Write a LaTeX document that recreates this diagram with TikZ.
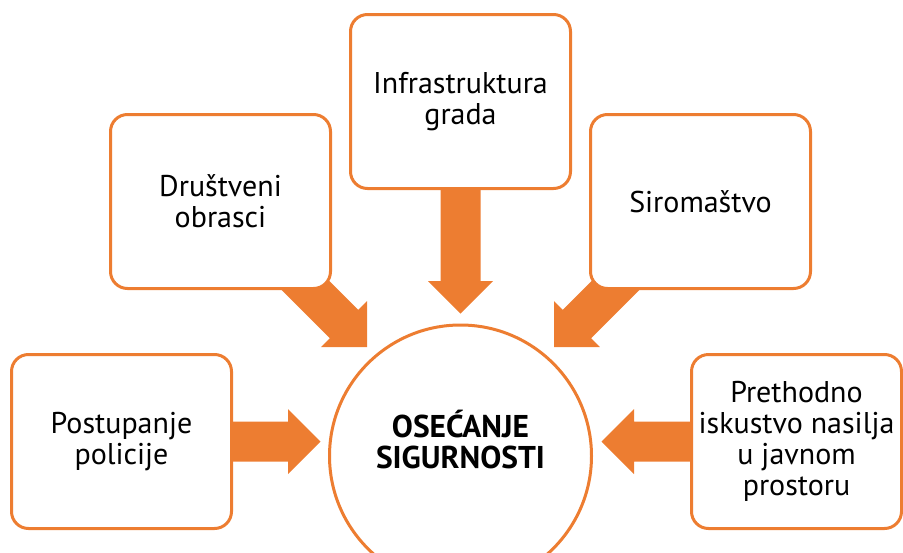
\documentclass[tikz,border=0pt]{standalone}
\usepackage{fontspec}
\setmainfont{PT Sans}
\definecolor{accent}{HTML}{ED7D31}
\newcommand\blockarr[3]{%
  \fill[accent, shift={(#1)}, rotate=#2]
    (0,-20) -- (#3-32.5,-20) -- (#3-32.5,-32.5) -- (#3,0) --
    (#3-32.5,32.5) -- (#3-32.5,20) -- (0,20) -- cycle;}
\begin{document}
\begin{tikzpicture}[x=1pt,y=-1pt,
  box/.style={draw=accent, line width=3pt, rounded corners=17pt, fill=white,
    minimum width=220pt, minimum height=174pt, align=center, inner sep=0pt,
    font=\fontsize{30}{31}\selectfont},
  ring/.style={circle, draw=accent, line width=3pt, fill=white,
    minimum size=262pt, inner sep=0pt},
  title/.style={align=center, font=\fontsize{31.5}{31}\selectfont\bfseries}]
\useasboundingbox (0,0) rectangle (903,552);
\clip (0,0) rectangle (903,552);
% start points of the diagonal arrows (hidden under the boxes)
\coordinate (ds) at (290,270);
\coordinate (ss) at (631,270);
\blockarr{ds}{-45}{108.9}
\blockarr{ss}{-135}{108.9}
% nodes
\node[box] (pol) at (121.5,441.5) {Postupanje\\policije};
\node[box, minimum width=210pt] (pre) at (796.5,441.5) {Prethodno\\iskustvo nasilja\\u javnom\\prostoru};
\node[box] (dru) at (220.5,201.5) {Društveni\\obrasci};
\node[box] (inf) at (460.5,101.5) {Infrastruktura\\grada};
\node[box] (sir) at (700.5,201.5) {Siromaštvo};
\node[ring] (c) at (460.5,456) {};
\node[title] (ct) at (460.5,440) {OSEĆANJE\\SIGURNOSTI};
% straight arrows
\blockarr{pol.east}{0}{87.5}
\blockarr{pre.west}{180}{88.5}
\blockarr{inf.south}{-90}{123.5}
\end{tikzpicture}
\end{document}
